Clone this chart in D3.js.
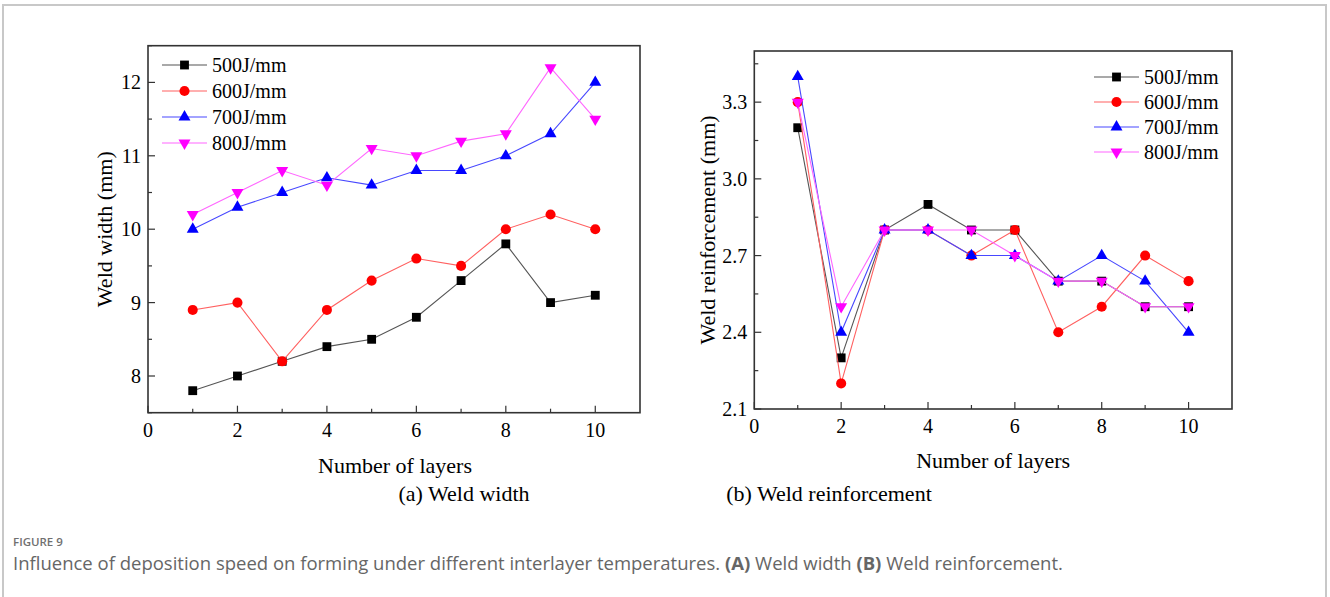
<!DOCTYPE html>
<html>
<head>
<meta charset="utf-8">
<script src="https://cdn.jsdelivr.net/npm/d3@7"></script>
<style>
  body { margin: 0; background: #fff; }
  svg text { font-family: "Liberation Serif", "Times New Roman", serif; fill: #000; }
  svg text.cap { font-family: "Open Sans", "Noto Sans", sans-serif; }
</style>
</head>
<body>
<div id="fig"></div>
<script>
var width = 1330
var height = 597

// data
var layers = [1, 2, 3, 4, 5, 6, 7, 8, 9, 10]
var seriesNames = ["500J/mm", "600J/mm", "700J/mm", "800J/mm"]
var widthValues = [
  [7.8, 8.0, 8.2, 8.4, 8.5, 8.8, 9.3, 9.8, 9.0, 9.1],
  [8.9, 9.0, 8.2, 8.9, 9.3, 9.6, 9.5, 10.0, 10.2, 10.0],
  [10.0, 10.3, 10.5, 10.7, 10.6, 10.8, 10.8, 11.0, 11.3, 12.0],
  [10.2, 10.5, 10.8, 10.6, 11.1, 11.0, 11.2, 11.3, 12.2, 11.5]
]
var reinfValues = [
  [3.2, 2.3, 2.8, 2.9, 2.8, 2.8, 2.6, 2.6, 2.5, 2.5],
  [3.3, 2.2, 2.8, 2.8, 2.7, 2.8, 2.4, 2.5, 2.7, 2.6],
  [3.4, 2.4, 2.8, 2.8, 2.7, 2.7, 2.6, 2.7, 2.6, 2.4],
  [3.3, 2.5, 2.8, 2.8, 2.8, 2.7, 2.6, 2.6, 2.5, 2.5]
]
var xTicks = [0, 2, 4, 6, 8, 10]
var widthTicks = [8, 9, 10, 11, 12]
var reinfTicks = [2.1, 2.4, 2.7, 3.0, 3.3]

var markerColors = ["#000000", "#ff0000", "#0000ff", "#ff00ff"]
var lineColors = ["#555555", "#ff6060", "#4848ff", "#ff66ff"]
var symbols = [
  {type: d3.symbolSquare, size: 78, rot: 0},
  {type: d3.symbolCircle, size: 80, rot: 0},
  {type: d3.symbolTriangle, size: 62, rot: 0},
  {type: d3.symbolTriangle, size: 62, rot: 180}
]

var svg = d3.select("#fig").append("svg")
  .attr("width", width)
  .attr("height", height)

// outer frame of the figure
svg.append("path")
  .attr("d", "M3,600 V5 H1326 V600")
  .attr("fill", "none")
  .attr("stroke", "#c8c8c8")
  .attr("stroke-width", 2)

function panel(p){
  var x = d3.scaleLinear().domain([0, 11]).range([p.left, p.right])
  var y = d3.scaleLinear().domain(p.yDomain).range([p.bottom, p.top])
  var g = svg.append("g")

  // minor ticks
  var xMinor = [1, 3, 5, 7, 9]
  g.selectAll("line.xminor").data(xMinor).enter().append("line")
    .attr("x1", d => x(d)).attr("x2", d => x(d))
    .attr("y1", p.bottom).attr("y2", p.bottom - 4)
    .attr("stroke", "#333").attr("stroke-width", 1.2)
  g.selectAll("line.xmajor").data(xTicks).enter().append("line")
    .attr("x1", d => x(d)).attr("x2", d => x(d))
    .attr("y1", p.bottom).attr("y2", p.bottom - 7)
    .attr("stroke", "#333").attr("stroke-width", 1.2)
  g.selectAll("line.yminor").data(p.yMinor).enter().append("line")
    .attr("x1", p.left).attr("x2", p.left + 4)
    .attr("y1", d => y(d)).attr("y2", d => y(d))
    .attr("stroke", "#333").attr("stroke-width", 1.2)
  g.selectAll("line.ymajor").data(p.yTicks).enter().append("line")
    .attr("x1", p.left).attr("x2", p.left + 7)
    .attr("y1", d => y(d)).attr("y2", d => y(d))
    .attr("stroke", "#333").attr("stroke-width", 1.2)

  // frame
  g.append("rect")
    .attr("x", p.left).attr("y", p.top)
    .attr("width", p.right - p.left).attr("height", p.bottom - p.top)
    .attr("fill", "none").attr("stroke", "#333").attr("stroke-width", 1.6)

  // tick labels
  g.selectAll("text.xl").data(xTicks).enter().append("text")
    .attr("x", d => x(d)).attr("y", p.bottom + 24)
    .attr("text-anchor", "middle").attr("font-size", 20)
    .text(d => d)
  g.selectAll("text.yl").data(p.yTicks).enter().append("text")
    .attr("x", p.left - 7).attr("y", d => y(d)).attr("dy", "0.35em")
    .attr("text-anchor", "end").attr("font-size", 20)
    .text(p.fmt)

  // axis titles
  g.append("text")
    .attr("x", (p.left + p.right) / 2 - p.xtShift).attr("y", p.bottom + p.xtDy)
    .attr("text-anchor", "middle").attr("font-size", 22)
    .text("Number of layers")
  g.append("text")
    .attr("transform", "translate(" + p.ytX + "," + (p.top + p.bottom) / 2 + ") rotate(-90)")
    .attr("text-anchor", "middle").attr("dy", "0.35em").attr("font-size", 22)
    .text(p.yTitle)

  // series
  var line = d3.line().x((d, i) => x(layers[i])).y(d => y(d))
  p.values.forEach(function(vals, s){
    g.append("path")
      .attr("d", line(vals))
      .attr("fill", "none")
      .attr("stroke", lineColors[s])
      .attr("stroke-width", 1.1)
    g.selectAll("path.m" + s).data(vals).enter().append("path")
      .attr("d", d3.symbol().type(symbols[s].type).size(symbols[s].size))
      .attr("transform", (d, i) => "translate(" + x(layers[i]) + "," + y(d) + ") rotate(" + symbols[s].rot + ")")
      .attr("fill", markerColors[s])
  })

  // legend
  seriesNames.forEach(function(name, s){
    var ly = p.legY + s * p.legStep
    g.append("line")
      .attr("x1", p.legX).attr("x2", p.legX + 45)
      .attr("y1", ly).attr("y2", ly)
      .attr("stroke", lineColors[s]).attr("stroke-width", 1.1)
    g.append("path")
      .attr("d", d3.symbol().type(symbols[s].type).size(symbols[s].size))
      .attr("transform", "translate(" + (p.legX + 22.5) + "," + ly + ") rotate(" + symbols[s].rot + ")")
      .attr("fill", markerColors[s])
    g.append("text")
      .attr("x", p.legX + 50).attr("y", ly).attr("dy", "0.35em")
      .attr("font-size", 20)
      .text(name)
  })
}

panel({
  left: 148, right: 640, top: 45.7, bottom: 412.7,
  yDomain: [7.5, 12.5], yTicks: widthTicks,
  yMinor: [7.5, 8.5, 9.5, 10.5, 11.5, 12.5],
  fmt: d => d, values: widthValues,
  yTitle: "Weld width (mm)", ytX: 104, xtShift: -1, xtDy: 60,
  legX: 162, legY: 65, legStep: 26
})
panel({
  left: 754.3, right: 1232, top: 51, bottom: 409,
  yDomain: [2.1, 3.5], yTicks: reinfTicks,
  yMinor: [2.25, 2.55, 2.85, 3.15, 3.45],
  fmt: d => d.toFixed(1), values: reinfValues,
  yTitle: "Weld reinforcement (mm)", ytX: 707, xtShift: 0, xtDy: 59,
  legX: 1094, legY: 77, legStep: 25
})

// sub captions
svg.append("text").attr("x", 464).attr("y", 501)
  .attr("text-anchor", "middle").attr("font-size", 22).text("(a) Weld width")
svg.append("text").attr("x", 829).attr("y", 501)
  .attr("text-anchor", "middle").attr("font-size", 22).text("(b) Weld reinforcement")

// figure caption
svg.append("text").attr("class", "cap")
  .attr("x", 13).attr("y", 546).attr("font-size", 11.5)
  .attr("font-weight", 600).style("fill", "#707070")
  .text("FIGURE 9")
var cap = svg.append("text").attr("class", "cap")
  .attr("x", 13).attr("y", 570).attr("font-size", 18.5).style("fill", "#666")
cap.append("tspan").text("Influence of deposition speed on forming under different interlayer temperatures. ")
cap.append("tspan").attr("font-weight", 700).text("(A)")
cap.append("tspan").text(" Weld width ")
cap.append("tspan").attr("font-weight", 700).text("(B)")
cap.append("tspan").text(" Weld reinforcement.")
</script>
</body>
</html>
